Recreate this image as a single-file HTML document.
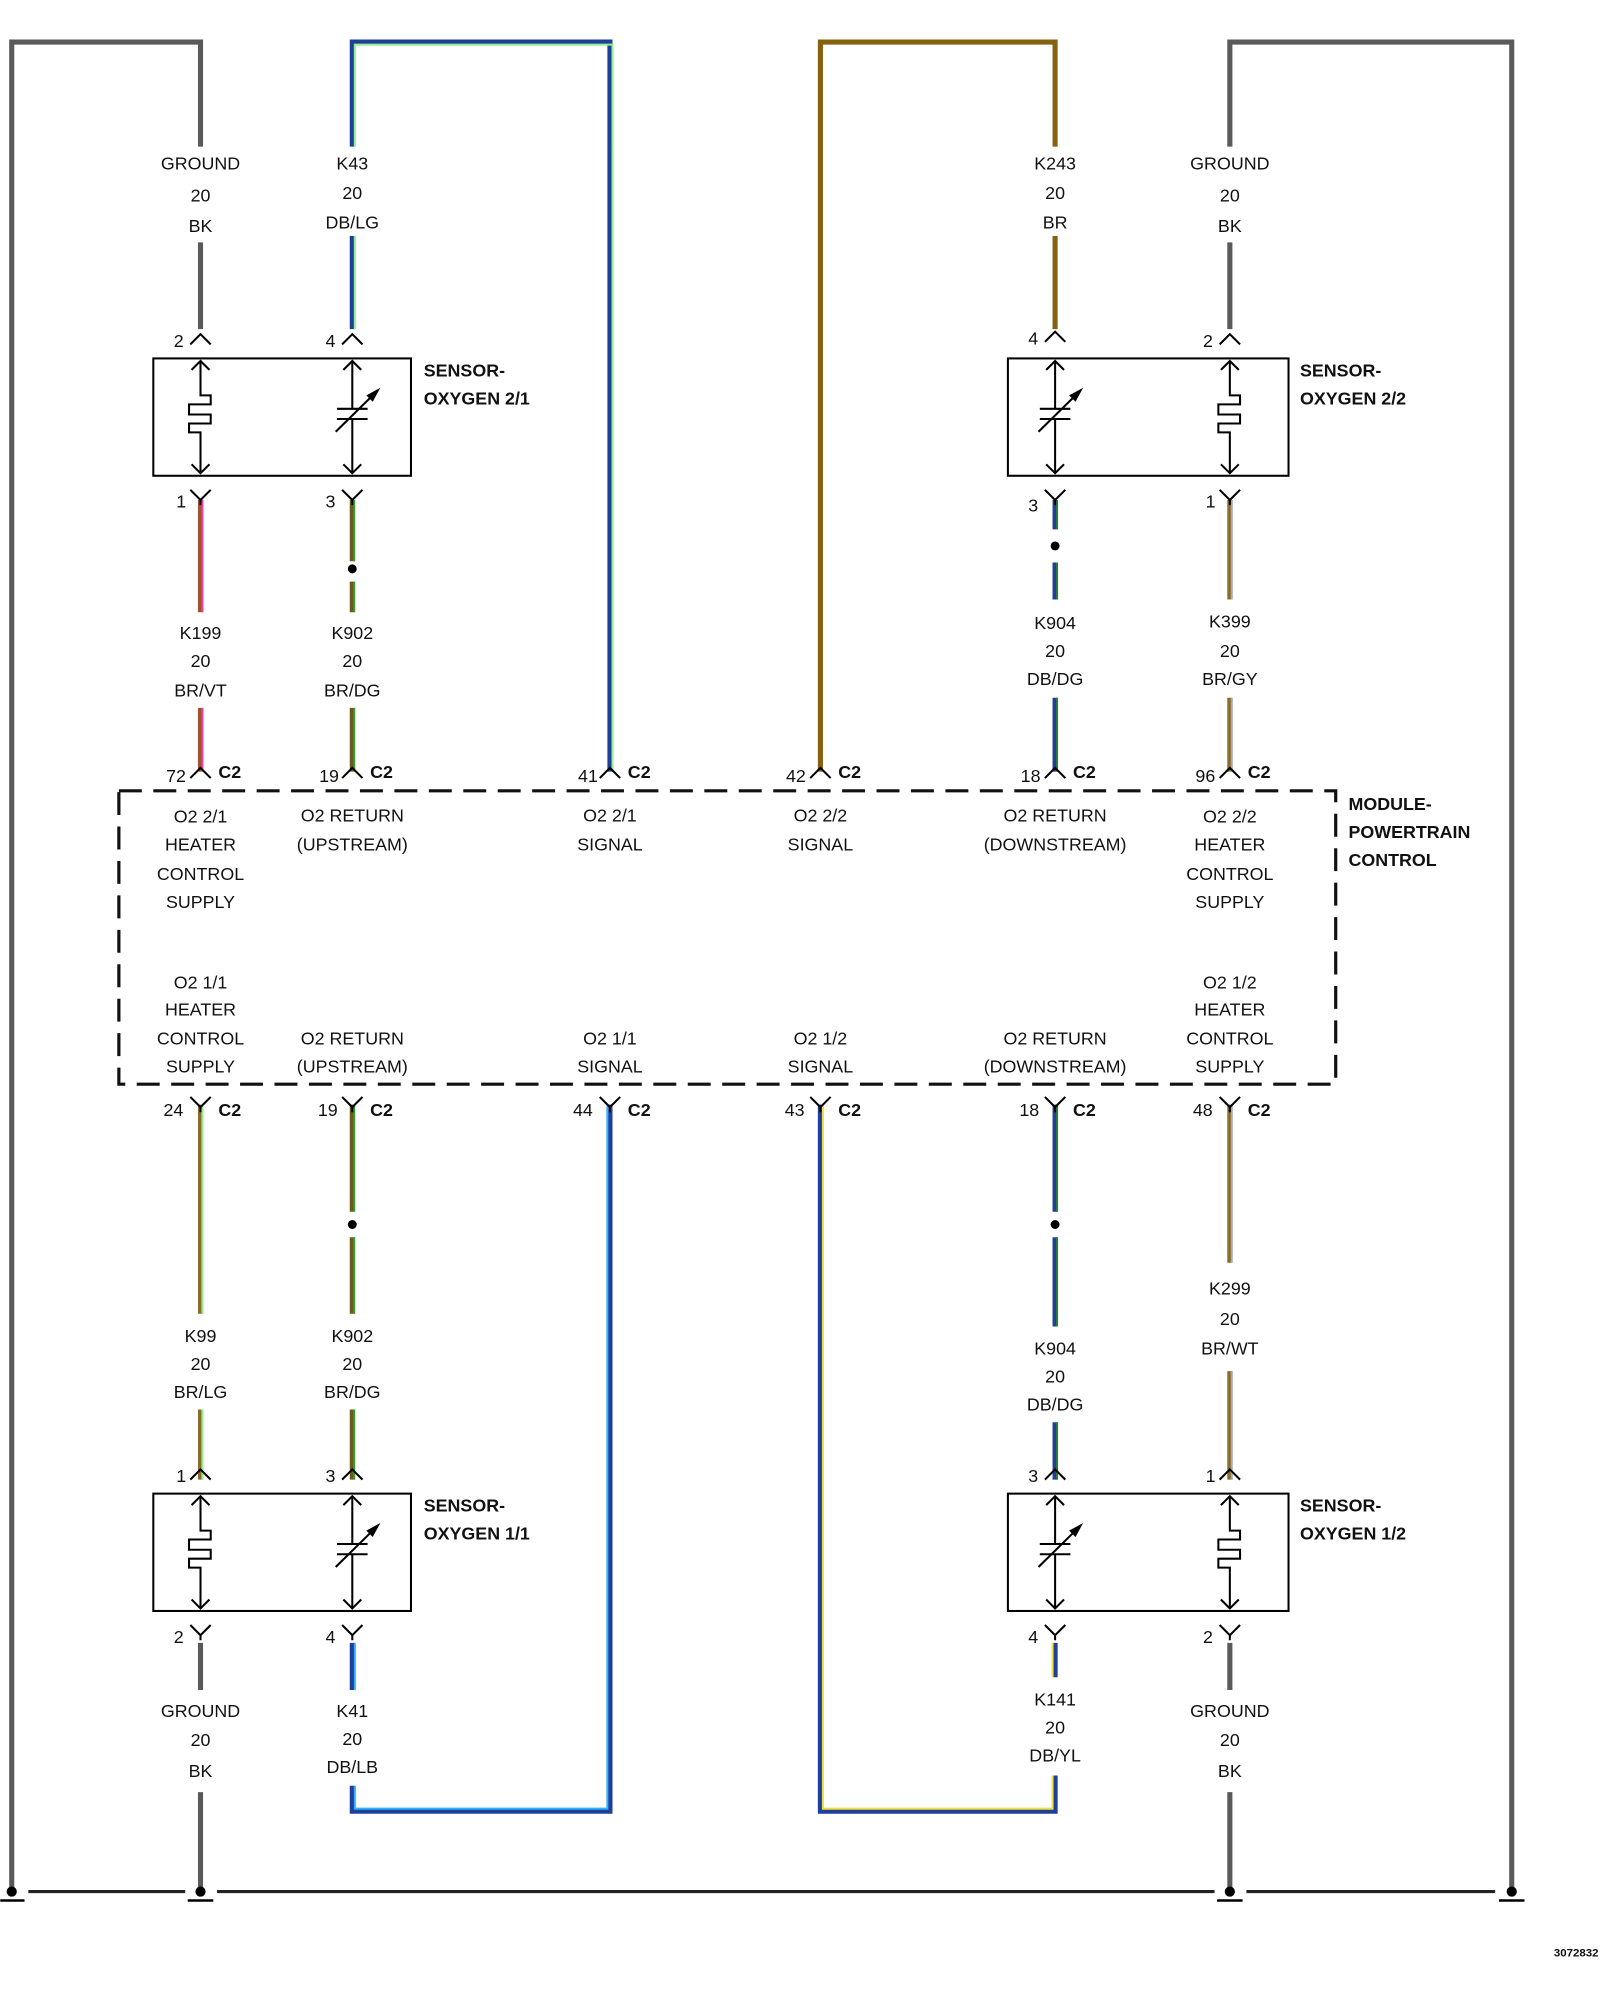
<!DOCTYPE html>
<html><head><meta charset="utf-8"><style>
html,body{margin:0;padding:0;background:#fff;}
svg{display:block}
text{font-family:"Liberation Sans",Arial,sans-serif;font-size:14px;fill:#111;}
.c{text-anchor:middle}
.b{font-weight:bold}
.bk{stroke:#5a5a5a;stroke-width:4;fill:none}
.m{stroke-width:4;fill:none}
.s{stroke-width:1.6;fill:none}
.k{stroke:#000;stroke-width:1.6;fill:none}
</style></head><body>
<svg width="1600" height="2000" viewBox="0 0 1254 1568" xmlns="http://www.w3.org/2000/svg">
<defs>
<g id="heat"><path class="k" d="M0,283V310H8V317H-9V325H8V332H-9V339H0V371"/><path class="k" d="M-7,290L0,283L7,290M-7,364L0,371L7,364"/></g>
<g id="cap"><path class="k" d="M0,283V320.5M0,328.5V371M-12,320.5H12M-12,328.5H12M-13,338.5L18,308"/><path d="M22,304L11,310L16,315Z" fill="#000"/><path class="k" d="M-7,290L0,283L7,290M-7,364L0,371L7,364"/></g>
<path id="up" class="k" d="M-8,8L0,0L8,8"/>
<path id="dn" class="k" d="M-8,-8L0,0L8,-8M0,0V4"/>
</defs>

<!-- outer gray -->
<path class="bk" d="M9,1480V33H157V115M157,190V258"/>
<path class="bk" d="M1185,1480V33H964V115M964,190V258"/>
<!-- K43 DB/LG -->
<path class="m" stroke="#1f3f9a" d="M276,258V185M276,115V33H478V605"/>
<path class="s" stroke="#8ef08e" d="M278,258V185M278,115V35H480V605"/>
<!-- K243 BR -->
<path class="m" stroke="#86620f" d="M643,605V33H827V115M827,185V258"/>

<!-- between sensors and module, top -->
<path class="m" stroke="#a0522d" d="M157,392V480M157,555V605"/>
<path class="s" stroke="#ee3fa6" d="M158.5,392V480M158.5,555V605"/>
<path class="m" stroke="#6b5a1e" d="M276,392V440M276,456V480M276,555V605"/>
<path class="s" stroke="#3a9a2a" d="M277.5,392V440M277.5,456V480M277.5,555V605"/>
<path class="m" stroke="#1f3f9a" d="M827,392V415M827,441V470M827,547V605"/>
<path class="s" stroke="#2a7a3a" d="M828.5,392V415M828.5,441V470M828.5,547V605"/>
<path class="m" stroke="#8b6b2a" d="M964,392V470M964,547V605"/>
<path class="s" stroke="#aaa" d="M965.5,392V470M965.5,547V605"/>

<!-- below module -->
<path class="m" stroke="#8b6b2a" d="M157,866V1030M157,1105V1160"/>
<path class="s" stroke="#8ef08e" d="M158.5,866V1030M158.5,1105V1160"/>
<path class="m" stroke="#6b5a1e" d="M276,866V950M276,970V1030M276,1105V1160"/>
<path class="s" stroke="#3a9a2a" d="M277.5,866V950M277.5,970V1030M277.5,1105V1160"/>
<path class="m" stroke="#1f3f9a" d="M478,866V1420H276V1400M276,1325V1288"/>
<path class="s" stroke="#30b0ff" d="M476,866V1418H278V1400M278,1325V1288"/>
<path class="m" stroke="#1f3f9a" d="M643,866V1420H827V1392M827,1315V1288"/>
<path class="s" stroke="#f0e040" d="M645,866V1418H825V1392M825,1315V1288"/>
<path class="m" stroke="#1f3f9a" d="M827,866V950M827,970V1040M827,1115V1160"/>
<path class="s" stroke="#2a7a3a" d="M828.5,866V950M828.5,970V1040M828.5,1115V1160"/>
<path class="m" stroke="#8b6b2a" d="M964,866V990M964,1075V1160"/>
<path class="s" stroke="#aaa" d="M965.5,866V990M965.5,1075V1160"/>
<path class="bk" d="M157,1288V1325M157,1405V1483M964,1288V1325M964,1405V1483"/>

<!-- dots -->
<circle cx="276" cy="446" r="3.5"/><circle cx="827" cy="428" r="3.5"/>
<circle cx="276" cy="960" r="3.5"/><circle cx="827" cy="960" r="3.5"/>

<!-- ground bus -->
<path stroke="#222" stroke-width="2.5" d="M22,1483H145M170,1483H952M977,1483H1172"/>
<g fill="#000"><circle cx="9" cy="1483" r="4"/><circle cx="157" cy="1483" r="4"/><circle cx="964" cy="1483" r="4"/><circle cx="1185" cy="1483" r="4"/></g>
<path stroke="#000" stroke-width="2" d="M0,1490H19M147,1490H167M954,1490H974M1175,1490H1195"/>

<!-- sensors -->
<rect x="120" y="281" width="202" height="92" class="k" stroke-width="2"/>
<use href="#heat" x="157"/><use href="#cap" x="276"/>
<rect x="790" y="281" width="220" height="92" class="k" stroke-width="2"/>
<use href="#cap" x="827"/><use href="#heat" x="964"/>
<rect x="120" y="1171" width="202" height="92" class="k" stroke-width="2"/>
<use href="#heat" x="157" y="890"/><use href="#cap" x="276" y="890"/>
<rect x="790" y="1171" width="220" height="92" class="k" stroke-width="2"/>
<use href="#cap" x="827" y="890"/><use href="#heat" x="964" y="890"/>

<!-- connector symbols -->
<use href="#up" x="157" y="262"/><use href="#up" x="276" y="262"/><use href="#up" x="827" y="260"/><use href="#up" x="964" y="262"/>
<use href="#dn" x="157" y="392"/><use href="#dn" x="276" y="392"/><use href="#dn" x="827" y="392"/><use href="#dn" x="964" y="392"/>
<use href="#up" x="157" y="602"/><use href="#up" x="276" y="602"/><use href="#up" x="478" y="602"/><use href="#up" x="643" y="602"/><use href="#up" x="827" y="602"/><use href="#up" x="964" y="602"/>
<use href="#dn" x="157" y="868"/><use href="#dn" x="276" y="868"/><use href="#dn" x="478" y="868"/><use href="#dn" x="643" y="868"/><use href="#dn" x="827" y="868"/><use href="#dn" x="964" y="868"/>
<use href="#up" x="157" y="1152"/><use href="#up" x="276" y="1152"/><use href="#up" x="827" y="1152"/><use href="#up" x="964" y="1152"/>
<use href="#dn" x="157" y="1282"/><use href="#dn" x="276" y="1282"/><use href="#dn" x="827" y="1282"/><use href="#dn" x="964" y="1282"/>

<!-- module box -->
<rect x="93" y="620" width="954" height="230" fill="none" stroke="#111" stroke-width="2.5" stroke-dasharray="18,9"/>

<!-- wire labels -->
<g class="c">
<text x="157" y="133" class="c">GROUND</text><text x="157" y="158" class="c">20</text><text x="157" y="182" class="c">BK</text>
<text x="276" y="133" class="c">K43</text><text x="276" y="156" class="c">20</text><text x="276" y="179" class="c">DB/LG</text>
<text x="827" y="133" class="c">K243</text><text x="827" y="156" class="c">20</text><text x="827" y="179" class="c">BR</text>
<text x="964" y="133" class="c">GROUND</text><text x="964" y="158" class="c">20</text><text x="964" y="182" class="c">BK</text>
<text x="157" y="501" class="c">K199</text><text x="157" y="523" class="c">20</text><text x="157" y="546" class="c">BR/VT</text>
<text x="276" y="501" class="c">K902</text><text x="276" y="523" class="c">20</text><text x="276" y="546" class="c">BR/DG</text>
<text x="827" y="493" class="c">K904</text><text x="827" y="515" class="c">20</text><text x="827" y="537" class="c">DB/DG</text>
<text x="964" y="492" class="c">K399</text><text x="964" y="515" class="c">20</text><text x="964" y="537" class="c">BR/GY</text>
<text x="157" y="1052" class="c">K99</text><text x="157" y="1074" class="c">20</text><text x="157" y="1096" class="c">BR/LG</text>
<text x="276" y="1052" class="c">K902</text><text x="276" y="1074" class="c">20</text><text x="276" y="1096" class="c">BR/DG</text>
<text x="827" y="1062" class="c">K904</text><text x="827" y="1084" class="c">20</text><text x="827" y="1106" class="c">DB/DG</text>
<text x="964" y="1015" class="c">K299</text><text x="964" y="1039" class="c">20</text><text x="964" y="1062" class="c">BR/WT</text>
<text x="157" y="1346" class="c">GROUND</text><text x="157" y="1369" class="c">20</text><text x="157" y="1393" class="c">BK</text>
<text x="276" y="1346" class="c">K41</text><text x="276" y="1368" class="c">20</text><text x="276" y="1390" class="c">DB/LB</text>
<text x="827" y="1337" class="c">K141</text><text x="827" y="1359" class="c">20</text><text x="827" y="1381" class="c">DB/YL</text>
<text x="964" y="1346" class="c">GROUND</text><text x="964" y="1369" class="c">20</text><text x="964" y="1393" class="c">BK</text>

<!-- module labels -->
<text x="157" y="645" class="c">O2 2/1</text><text x="157" y="667" class="c">HEATER</text><text x="157" y="690" class="c">CONTROL</text><text x="157" y="712" class="c">SUPPLY</text>
<text x="276" y="644" class="c">O2 RETURN</text><text x="276" y="667" class="c">(UPSTREAM)</text>
<text x="478" y="644" class="c">O2 2/1</text><text x="478" y="667" class="c">SIGNAL</text>
<text x="643" y="644" class="c">O2 2/2</text><text x="643" y="667" class="c">SIGNAL</text>
<text x="827" y="644" class="c">O2 RETURN</text><text x="827" y="667" class="c">(DOWNSTREAM)</text>
<text x="964" y="645" class="c">O2 2/2</text><text x="964" y="667" class="c">HEATER</text><text x="964" y="690" class="c">CONTROL</text><text x="964" y="712" class="c">SUPPLY</text>
<text x="157" y="775" class="c">O2 1/1</text><text x="157" y="796" class="c">HEATER</text><text x="157" y="819" class="c">CONTROL</text><text x="157" y="841" class="c">SUPPLY</text>
<text x="276" y="819" class="c">O2 RETURN</text><text x="276" y="841" class="c">(UPSTREAM)</text>
<text x="478" y="819" class="c">O2 1/1</text><text x="478" y="841" class="c">SIGNAL</text>
<text x="643" y="819" class="c">O2 1/2</text><text x="643" y="841" class="c">SIGNAL</text>
<text x="827" y="819" class="c">O2 RETURN</text><text x="827" y="841" class="c">(DOWNSTREAM)</text>
<text x="964" y="775" class="c">O2 1/2</text><text x="964" y="796" class="c">HEATER</text><text x="964" y="819" class="c">CONTROL</text><text x="964" y="841" class="c">SUPPLY</text>
</g>

<!-- pin numbers -->
<text x="136" y="272">2</text><text x="255" y="272">4</text><text x="806" y="270">4</text><text x="943" y="272">2</text>
<text x="138" y="398">1</text><text x="255" y="398">3</text><text x="806" y="401">3</text><text x="945" y="398">1</text>
<text x="130" y="613">72</text><text x="250" y="613">19</text><text x="453" y="613">41</text><text x="616" y="613">42</text><text x="800" y="613">18</text><text x="937" y="613">96</text>
<text x="128" y="875">24</text><text x="249" y="875">19</text><text x="449" y="875">44</text><text x="615" y="875">43</text><text x="799" y="875">18</text><text x="935" y="875">48</text>
<text x="138" y="1162">1</text><text x="255" y="1162">3</text><text x="806" y="1162">3</text><text x="945" y="1162">1</text>
<text x="136" y="1288">2</text><text x="255" y="1288">4</text><text x="806" y="1288">4</text><text x="943" y="1288">2</text>
<g class="b">
<text x="171" y="610" class="b">C2</text><text x="290" y="610" class="b">C2</text><text x="492" y="610" class="b">C2</text><text x="657" y="610" class="b">C2</text><text x="841" y="610" class="b">C2</text><text x="978" y="610" class="b">C2</text>
<text x="171" y="875" class="b">C2</text><text x="290" y="875" class="b">C2</text><text x="492" y="875" class="b">C2</text><text x="657" y="875" class="b">C2</text><text x="841" y="875" class="b">C2</text><text x="978" y="875" class="b">C2</text>
<text x="332" y="295" class="b">SENSOR-</text><text x="332" y="317" class="b">OXYGEN 2/1</text>
<text x="1019" y="295" class="b">SENSOR-</text><text x="1019" y="317" class="b">OXYGEN 2/2</text>
<text x="332" y="1185" class="b">SENSOR-</text><text x="332" y="1207" class="b">OXYGEN 1/1</text>
<text x="1019" y="1185" class="b">SENSOR-</text><text x="1019" y="1207" class="b">OXYGEN 1/2</text>
<text x="1057" y="635" class="b">MODULE-</text><text x="1057" y="657" class="b">POWERTRAIN</text><text x="1057" y="679" class="b">CONTROL</text>
<text x="1218" y="1534" class="b" style="font-size:9px">3072832</text>
</g>
</svg>
</body></html>
